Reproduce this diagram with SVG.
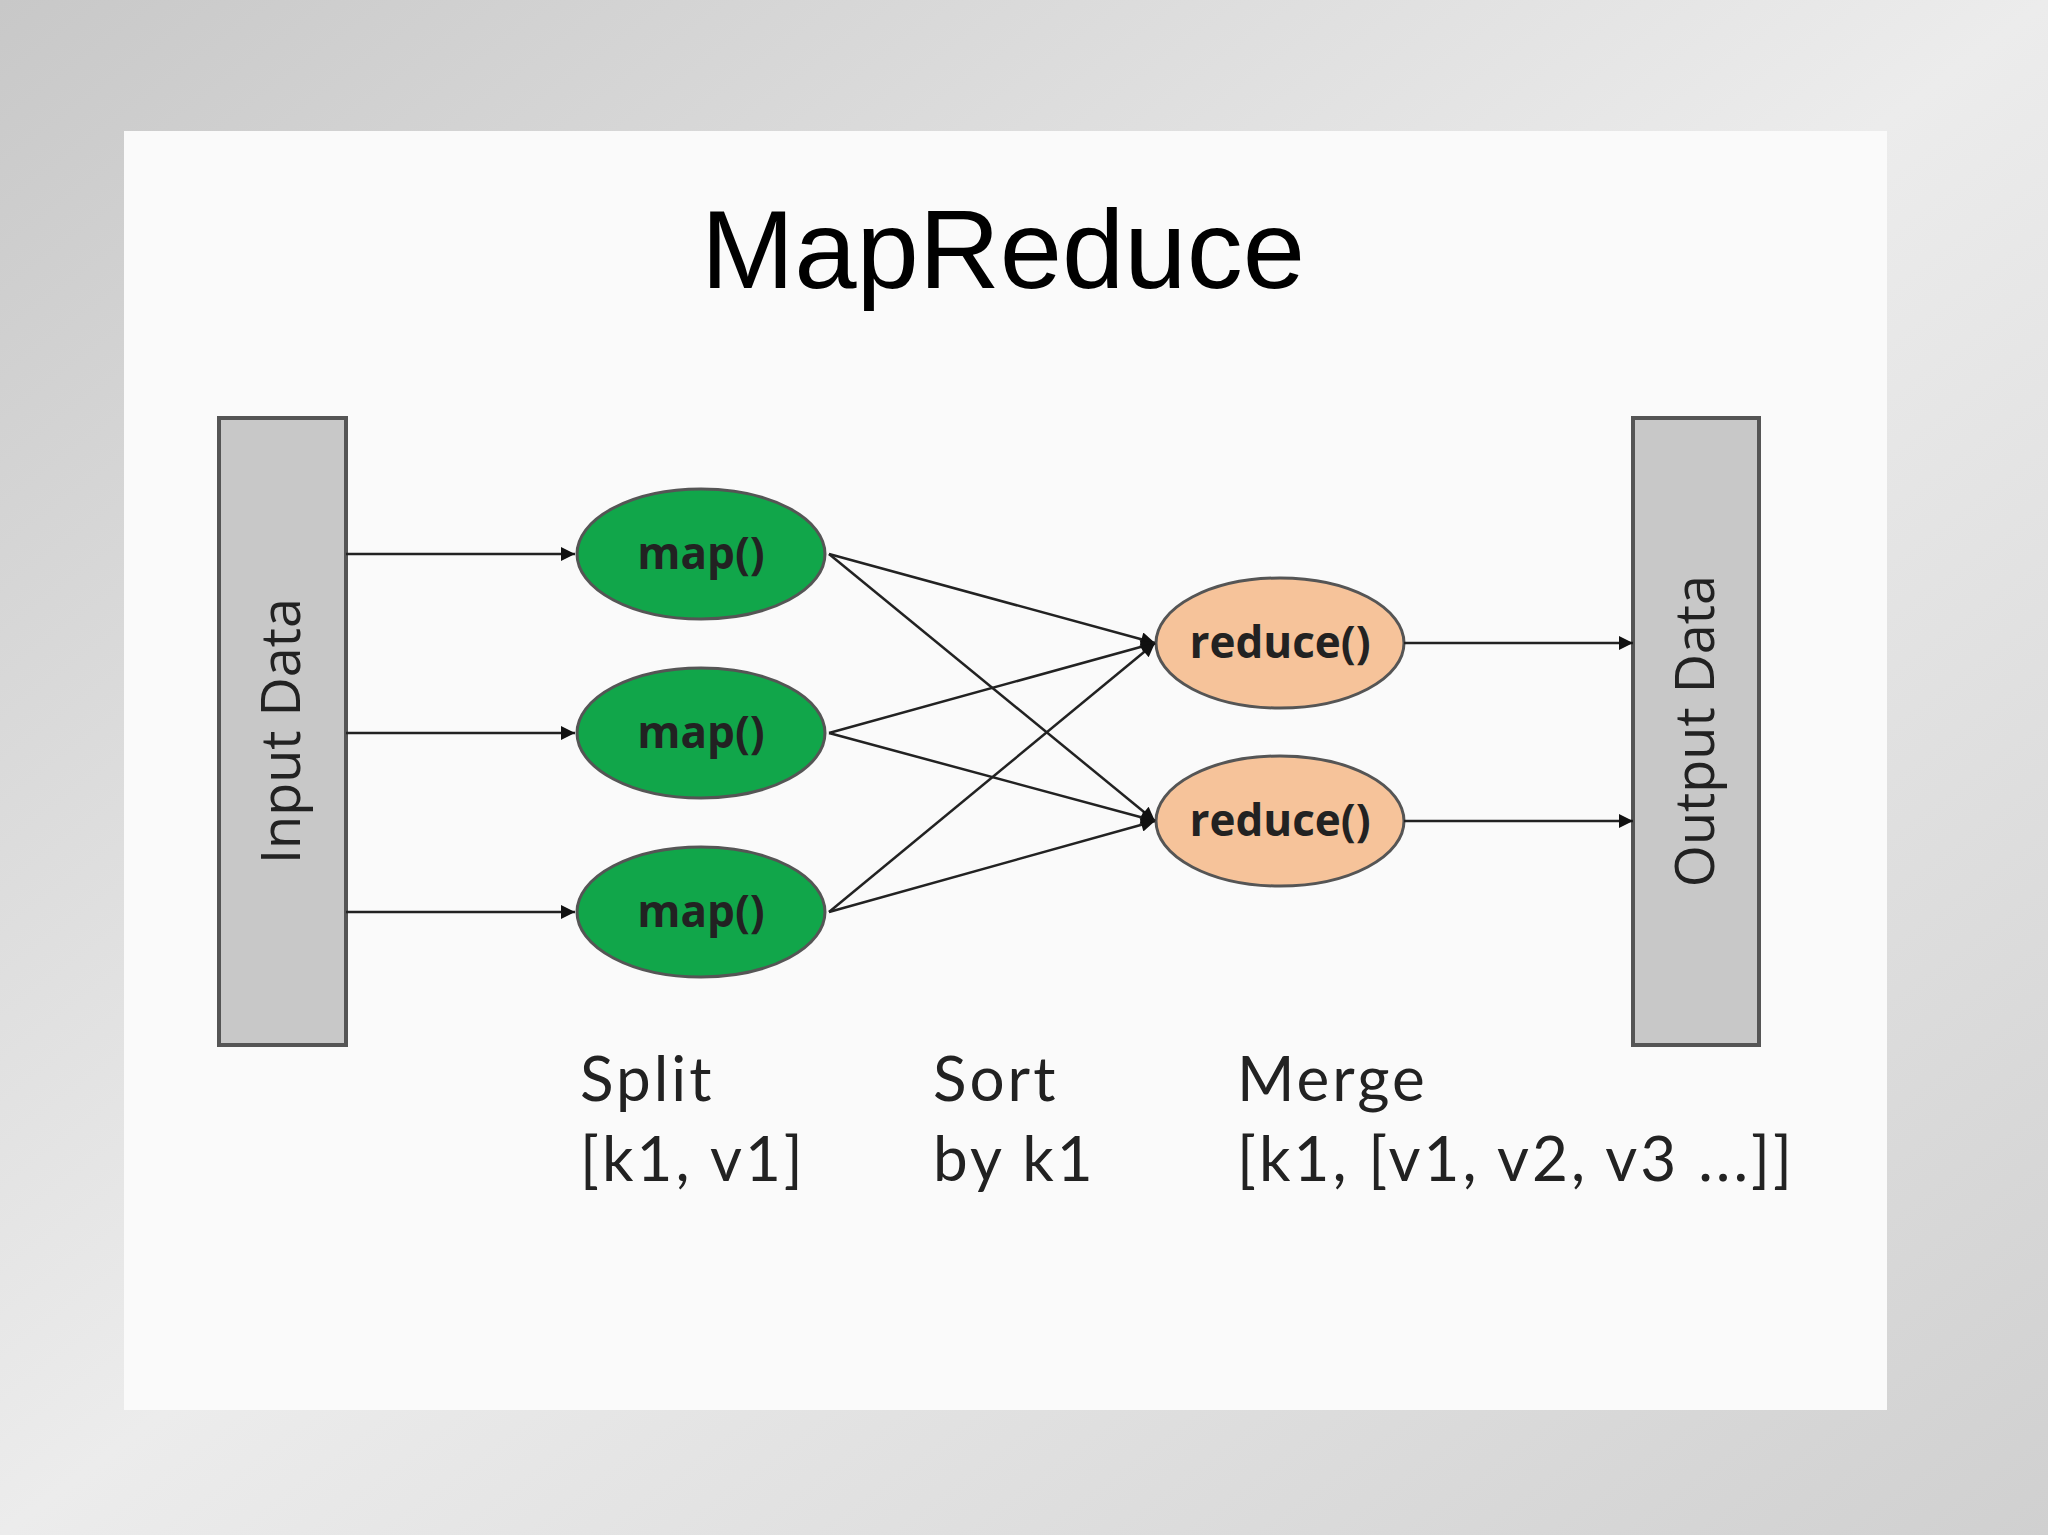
<svg xmlns="http://www.w3.org/2000/svg" width="2048" height="1535" viewBox="0 0 2048 1535">
<defs>
<linearGradient id="bg" x1="0" y1="0" x2="1" y2="1">
<stop offset="0" stop-color="#c8c8c8"/><stop offset="0.5" stop-color="#ececec"/><stop offset="1" stop-color="#d0d0d0"/>
</linearGradient>
<marker id="ah" viewBox="0 0 10 10" refX="10" refY="5" markerWidth="16" markerHeight="14" markerUnits="userSpaceOnUse" orient="auto"><path d="M0,0 L10,5 L0,10 Z" fill="#111"/></marker>
<style>
.bar{fill:#c8c8c8;stroke:#555;stroke-width:4}
.map{fill:#11a64a;stroke:#555;stroke-width:3}
.red{fill:#f6c39a;stroke:#555;stroke-width:3}
.nt{font-family:"Open Sans",sans-serif;font-weight:bold;font-size:44px;fill:#222;text-anchor:middle}
.bt{font-family:"Open Sans",sans-serif;font-size:54px;fill:#222;text-anchor:middle}
.lb{font-family:Lato,"Open Sans",sans-serif;font-size:62px;letter-spacing:3px;fill:#222}
.c{stroke:#222;stroke-width:2.5;fill:none;marker-end:url(#ah)}
</style>
</defs>
<rect width="2048" height="1535" fill="url(#bg)"/>
<rect x="124" y="131" width="1763" height="1279" fill="#fafafa"/>
<text x="1003" y="288" font-family="Liberation Sans,sans-serif" font-size="112" text-anchor="middle" fill="#000">MapReduce</text>
<g id="input"><rect class="bar" x="219" y="418" width="127" height="627"/><text class="bt" transform="translate(300,731) rotate(-90)">Input Data</text></g>
<g id="output"><rect class="bar" x="1633" y="418" width="126" height="627"/><text class="bt" transform="translate(1714,731) rotate(-90)">Output Data</text></g>
<g id="map1"><ellipse class="map" cx="701" cy="554" rx="124" ry="65"/><text class="nt" x="701" y="569">map()</text></g>
<g id="map2"><ellipse class="map" cx="701" cy="733" rx="124" ry="65"/><text class="nt" x="701" y="748">map()</text></g>
<g id="map3"><ellipse class="map" cx="701" cy="912" rx="124" ry="65"/><text class="nt" x="701" y="927">map()</text></g>
<g id="reduce1"><ellipse class="red" cx="1280" cy="643" rx="124" ry="65"/><text class="nt" x="1280" y="658">reduce()</text></g>
<g id="reduce2"><ellipse class="red" cx="1280" cy="821" rx="124" ry="65"/><text class="nt" x="1280" y="836">reduce()</text></g>
<g id="connectors">
<line class="c" x1="346" y1="554" x2="575" y2="554"/>
<line class="c" x1="346" y1="733" x2="575" y2="733"/>
<line class="c" x1="346" y1="912" x2="575" y2="912"/>
<line class="c" x1="829" y1="554" x2="1155" y2="643"/>
<line class="c" x1="829" y1="554" x2="1155" y2="821"/>
<line class="c" x1="829" y1="733" x2="1155" y2="643"/>
<line class="c" x1="829" y1="733" x2="1155" y2="821"/>
<line class="c" x1="829" y1="912" x2="1155" y2="643"/>
<line class="c" x1="829" y1="912" x2="1155" y2="821"/>
<line class="c" x1="1404" y1="643" x2="1633" y2="643"/>
<line class="c" x1="1404" y1="821" x2="1633" y2="821"/>
</g>
<g id="labels">
<text class="lb" x="580" y="1101">Split</text><text class="lb" x="580" y="1181">[k1, v1]</text>
<text class="lb" x="933" y="1101">Sort</text><text class="lb" x="933" y="1181">by k1</text>
<text class="lb" x="1237" y="1101">Merge</text><text class="lb" x="1237" y="1181">[k1, [v1, v2, v3 ...]]</text>
</g>
</svg>
